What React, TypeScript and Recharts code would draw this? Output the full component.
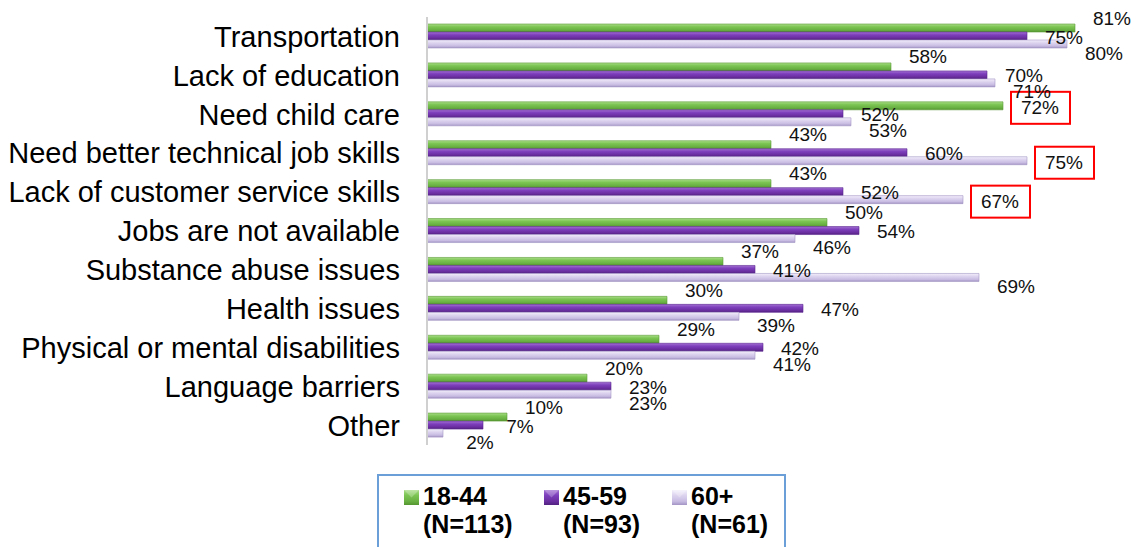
import React from "react";
import { BarChart, Bar, XAxis, YAxis, LabelList, Legend } from "recharts";

// Barriers to employment, share of respondents by age group (%)
const categories = [
  "Transportation",
  "Lack of education",
  "Need child care",
  "Need better technical job skills",
  "Lack of customer service skills",
  "Jobs are not available",
  "Substance abuse issues",
  "Health issues",
  "Physical or mental disabilities",
  "Language barriers",
  "Other",
];
const age18to44 = [81, 58, 72, 43, 43, 50, 37, 30, 29, 20, 10];
const age45to59 = [75, 70, 52, 60, 52, 54, 41, 47, 42, 23, 7];
const age60plus = [80, 71, 53, 75, 67, 46, 69, 39, 41, 23, 2];

const seriesNames = ["18-44", "45-59", "60+"];
const groupSizes = ["(N=113)", "(N=93)", "(N=61)"];

// labels that get the red box in the original slide
const highlighted: [string, string][] = [
  ["Need child care", "18-44"],
  ["Need better technical job skills", "60+"],
  ["Lack of customer service skills", "60+"],
];

const data = categories.map((c, i) => ({
  category: c,
  "18-44": age18to44[i],
  "45-59": age45to59[i],
  "60+": age60plus[i],
}));

const AXIS_FONT = "'Liberation Sans', Arial, sans-serif";

const makeLabel = (series: string, dy: number) => (props: any) => {
  const { x, y, width, height, value, index } = props;
  const boxed = highlighted.some(([c, s]) => c === categories[index] && s === series);
  const cx = Number(x) + Number(width) + 37;
  // boxed labels sit level with their own bar
  const cy = Number(y) + Number(height) / 2 + (boxed ? 2 : dy);
  return (
    <g>
      {boxed && (
        <rect x={cx - 29} y={cy - 16} width={59} height={32} fill="none" stroke="#ff0000" strokeWidth={2} />
      )}
      <text
        x={cx}
        y={cy}
        textAnchor="middle"
        dominantBaseline="central"
        fontFamily={AXIS_FONT}
        fontSize={19}
        fill="#111"
      >
        {value}%
      </text>
    </g>
  );
};

const LegendBox = (props: any) => {
  const payload = props.payload || [];
  const markerX = [25, 165, 293];
  return (
    <div
      style={{
        position: "relative",
        width: 405,
        height: 90,
        border: "2px solid #6a9fd8",
        background: "#fff",
        fontFamily: AXIS_FONT,
        fontWeight: "bold",
        fontSize: 25,
        color: "#000",
      }}
    >
      {payload.map((p: any, i: number) => (
        <div key={p.value} style={{ position: "absolute", left: markerX[i], top: 6 }}>
          <svg width={15} height={15} style={{ position: "absolute", left: 0, top: 8 }}>
            <rect x={0} y={0} width={15} height={15} fill={p.color} />
            <path d="M0 0 L7.5 7.5 L15 0" fill="rgba(255,255,255,0.25)" />
          </svg>
          <div style={{ marginLeft: 19, lineHeight: "28px", whiteSpace: "nowrap" }}>
            {p.value}
            <br />
            {groupSizes[seriesNames.indexOf(p.value)]}
          </div>
        </div>
      ))}
    </div>
  );
};

export default function App() {
  return (
    <div style={{ width: 1136, height: 547, overflow: "hidden", background: "#fff" }}>
      <style>{`body{margin:0}`}</style>
      <BarChart
        width={1136}
        height={547}
        data={data}
        layout="vertical"
        margin={{ top: 17, right: 5, bottom: 102, left: 0 }}
        barSize={8}
        barGap={0}
      >
        <defs>
          <linearGradient id="gGreen" x1="0" y1="0" x2="0" y2="1">
            <stop offset="0%" stopColor="#a9dd88" />
            <stop offset="35%" stopColor="#7cc553" />
            <stop offset="75%" stopColor="#69b042" />
            <stop offset="100%" stopColor="#54952f" />
          </linearGradient>
          <linearGradient id="gPurple" x1="0" y1="0" x2="0" y2="1">
            <stop offset="0%" stopColor="#a371d2" />
            <stop offset="35%" stopColor="#7e40bc" />
            <stop offset="75%" stopColor="#6a2ea0" />
            <stop offset="100%" stopColor="#52227f" />
          </linearGradient>
          <linearGradient id="gLavender" x1="0" y1="0" x2="0" y2="1">
            <stop offset="0%" stopColor="#f3effb" />
            <stop offset="35%" stopColor="#ddd4ef" />
            <stop offset="75%" stopColor="#c8bce2" />
            <stop offset="100%" stopColor="#a394c4" />
          </linearGradient>
        </defs>
        <XAxis type="number" domain={[0, 88]} hide />
        <YAxis
          type="category"
          dataKey="category"
          width={427}
          axisLine={{ stroke: "#d0d0d0", strokeWidth: 2 }}
          tickLine={false}
          tickSize={0}
          tickMargin={27}
          interval={0}
          tick={{ fontFamily: AXIS_FONT, fontSize: 29, fill: "#000" }}
        />
        <Legend
          layout="horizontal"
          verticalAlign="middle"
          align="center"
          wrapperStyle={{ left: 377, top: 474, width: 409 }}
          content={<LegendBox />}
        />
        <Bar dataKey="18-44" name="18-44" fill="url(#gGreen)" stroke="#5a9a36" strokeWidth={0.6} isAnimationActive={false}>
          <LabelList dataKey="18-44" content={makeLabel("18-44", -10)} />
        </Bar>
        <Bar dataKey="45-59" name="45-59" fill="url(#gPurple)" stroke="#5b2590" strokeWidth={0.6} isAnimationActive={false}>
          <LabelList dataKey="45-59" content={makeLabel("45-59", 1)} />
        </Bar>
        <Bar dataKey="60+" name="60+" fill="url(#gLavender)" stroke="#a597c6" strokeWidth={0.6} isAnimationActive={false}>
          <LabelList dataKey="60+" content={makeLabel("60+", 9)} />
        </Bar>
      </BarChart>
    </div>
  );
}
